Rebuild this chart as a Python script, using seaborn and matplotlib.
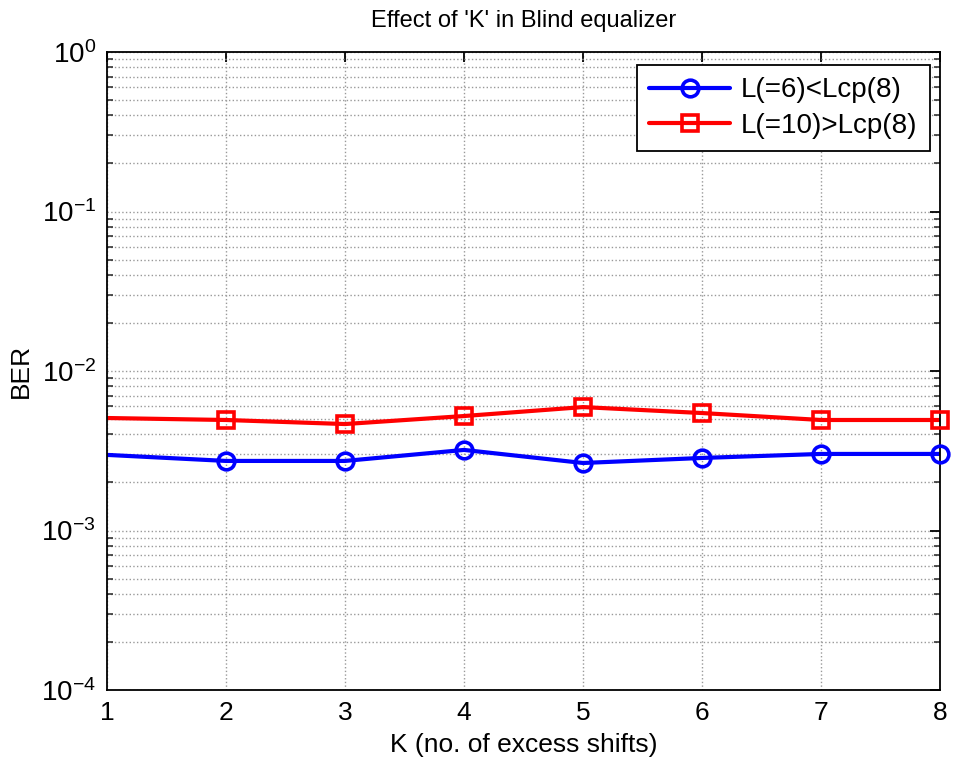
import matplotlib
matplotlib.use("Agg")
import matplotlib.pyplot as plt
import seaborn as sns
import numpy as np
from matplotlib.lines import Line2D
from matplotlib.ticker import LogLocator, FixedLocator, FuncFormatter

K = [0, 2, 3, 4, 5, 6, 7, 8]
ber_L6 = [3.25e-3, 2.73e-3, 2.73e-3, 3.2e-3, 2.65e-3, 2.85e-3, 3.02e-3, 3.02e-3]
ber_L10 = [5.22e-3, 4.93e-3, 4.65e-3, 5.22e-3, 5.94e-3, 5.45e-3, 4.93e-3, 4.93e-3]
labels = ["L(=6)<Lcp(8)", "L(=10)>Lcp(8)"]
xticks = [1, 2, 3, 4, 5, 6, 7, 8]

sns.set_theme(style="white")
plt.rcParams['font.family'] = ['Liberation Sans', 'DejaVu Sans']
plt.rcParams['mathtext.fontset'] = 'custom'
plt.rcParams['mathtext.rm'] = 'Liberation Sans'
plt.rcParams['mathtext.it'] = 'Liberation Sans'
plt.rcParams['mathtext.default'] = 'regular'
plt.rcParams['text.color'] = 'black'
plt.rcParams['axes.labelcolor'] = 'black'
plt.rcParams['axes.titlecolor'] = 'black'

fig = plt.figure(figsize=(9.54, 7.71), dpi=100)
ax = fig.add_axes([107/954, 1-690/771, (940-107)/954, (690-52)/771])

series = [(ber_L6, 'blue', 'o'), (ber_L10, 'red', 's')]
for vals, col, mk in series:
    sns.lineplot(x=K, y=vals, ax=ax, color=col, linewidth=3, estimator=None, sort=False)
    kk = [k for k in K if k >= 1]
    vv = [v for k, v in zip(K, vals) if k >= 1]
    ax.plot(kk, vv, linestyle='none', marker=mk, markersize=12, markerfacecolor='none',
            markeredgecolor=col, markeredgewidth=2.6, clip_on=False, zorder=5)

ax.set_yscale('log')
ax.set_xlim(1, 8)
ax.set_ylim(1e-4, 1e0)
ax.xaxis.set_major_locator(FixedLocator(xticks))
ax.yaxis.set_major_locator(LogLocator(base=10, numticks=10))
ax.yaxis.set_minor_locator(LogLocator(base=10, subs=np.arange(2, 10), numticks=20))
ax.yaxis.set_major_formatter(FuncFormatter(lambda v, p: r'$10^{%d}$' % int(round(np.log10(v)))))

ax.grid(True, which='major', axis='both', color='#999999', linestyle=':', linewidth=1.0)
ax.grid(True, which='minor', axis='y', color='#999999', linestyle=':', linewidth=1.0)

for s in ax.spines.values():
    s.set_color('black')
    s.set_linewidth(1.3)

ax.tick_params(axis='both', which='major', direction='in', length=7, width=1.3,
               top=True, right=True, labelsize=19, colors='black')
ax.tick_params(axis='x', which='major', pad=8)
ax.tick_params(axis='y', which='major', pad=8, labelsize=20)
ax.tick_params(axis='y', which='minor', direction='in', length=4, width=1.1,
               left=True, right=True)

ax.set_xlabel('K (no. of excess shifts)', fontsize=19, labelpad=6)
ax.set_ylabel('BER', fontsize=19, labelpad=6)
ax.set_title("Effect of 'K' in Blind equalizer", fontsize=17, pad=18, color='black')

handles = [Line2D([], [], color=c, marker=m, markersize=12, markerfacecolor='none',
                  markeredgecolor=c, markeredgewidth=2.6, linewidth=3)
           for _, c, m in series]
leg = ax.legend(handles, labels, loc='upper right', bbox_to_anchor=(0.988, 0.98),
                fontsize=20, frameon=True, fancybox=False, edgecolor='black',
                framealpha=1, handlelength=2.9, handletextpad=0.4,
                borderpad=0.45, labelspacing=0.35, borderaxespad=0.0)
leg.get_frame().set_linewidth(1.3)
for t in leg.get_texts():
    t.set_color('black')

fig.savefig('out.png', dpi=100)
